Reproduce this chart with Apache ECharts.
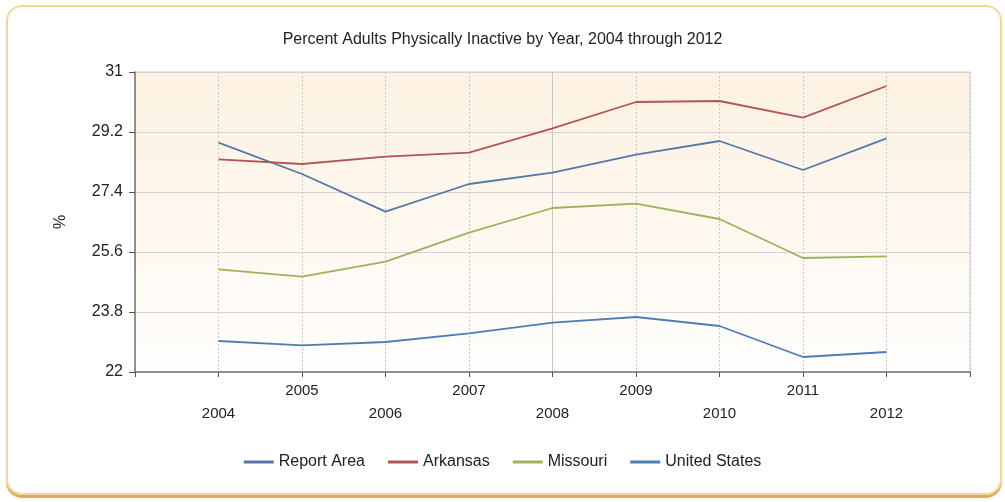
<!DOCTYPE html>
<html>
<head>
<meta charset="utf-8">
<script src="https://cdn.jsdelivr.net/npm/echarts@6/dist/echarts.min.js"></script>
<style>
    html, body { margin: 0; padding: 0; background: #fff; }
    #panel {
        position: absolute; left: 6px; top: 5px; width: 992px; height: 486px;
        border: 2px solid #efd796; border-radius: 16px;
        box-shadow: 0 3px 1px #d9ab62;
    }
    #main { position: absolute; left: 0; top: 0; width: 1005px; height: 502px; }
</style>
</head>
<body>
<div id="panel"></div>
<div id="main"></div>
<script>
// 数据
const years = [2004, 2005, 2006, 2007, 2008, 2009, 2010, 2011, 2012];
const reportArea = [28.88, 27.94, 26.81, 27.64, 27.98, 28.52, 28.93, 28.06, 29.01];
const arkansas = [28.38, 28.24, 28.46, 28.58, 29.31, 30.10, 30.13, 29.63, 30.58];
const missouri = [25.08, 24.86, 25.31, 26.18, 26.92, 27.05, 26.59, 25.42, 25.47];
const unitedStates = [22.93, 22.80, 22.90, 23.16, 23.48, 23.65, 23.38, 22.45, 22.60];
const yTicks = [22, 23.8, 25.6, 27.4, 29.2, 31];

window.addEventListener('DOMContentLoaded', function() {
    initChart();
});

function pairs(vals) {
    return years.map((y, i) => [y, vals[i]]);
}

function lineSeries(name, vals, color) {
    return {
        name: name,
        type: 'line',
        data: pairs(vals),
        showSymbol: false,
        symbol: 'none',
        lineStyle: { color: color, width: 1.8 },
        itemStyle: { color: color }
    };
}

function initChart() {
    const chartDom = document.getElementById('main');
    const myChart = echarts.init(chartDom);
    const font = 'Liberation Sans, Arial, sans-serif';

    const option = {
        textStyle: { fontFamily: font },
        title: {
            text: 'Percent Adults Physically Inactive by Year, 2004 through 2012',
            left: 'center',
            top: 27,
            textStyle: { fontSize: 16, fontWeight: 'normal', color: '#222', fontFamily: font }
        },
        legend: {
            bottom: 27,
            left: 'center',
            icon: 'rect',
            itemWidth: 30,
            itemHeight: 3,
            itemGap: 23,
            textStyle: { fontSize: 16, color: '#222', fontFamily: font },
            data: ['Report Area', 'Arkansas', 'Missouri', 'United States']
        },
        grid: {
            left: 135,
            right: 35,
            top: 72,
            bottom: 130,
            show: true,
            borderColor: '#cfcfcf',
            borderWidth: 1,
            backgroundColor: new echarts.graphic.LinearGradient(0, 0, 0, 1, [
                { offset: 0, color: '#fcf1e1' },
                { offset: 1, color: '#fffefd' }
            ])
        },
        xAxis: [
            {
                type: 'value',
                min: 2003,
                max: 2013,
                interval: 1,
                axisLine: { lineStyle: { color: '#777', width: 1.5 } },
                axisTick: { show: true, length: 5, lineStyle: { color: '#555' } },
                splitLine: { show: true, lineStyle: { color: '#c8c8c8', type: [2, 2] } },
                axisLabel: {
                    fontSize: 15,
                    color: '#222',
                    margin: 7,
                    lineHeight: 23,
                    formatter: function(v) {
                        if (v < 2004 || v > 2012) return '';
                        return v % 2 === 0 ? '\n' + v : String(v);
                    }
                }
            },
            {
                type: 'value',
                min: 2003,
                max: 2013,
                position: 'bottom',
                axisLine: { show: false },
                axisLabel: { show: false },
                axisTick: { show: false, customValues: [2008] },
                splitLine: { show: true, lineStyle: { color: '#c8c8c8', type: 'solid' } }
            }
        ],
        yAxis: {
            type: 'value',
            min: 22,
            max: 31,
            name: '%',
            nameLocation: 'middle',
            nameGap: 66,
            nameTextStyle: { fontSize: 16, color: '#222' },
            axisLine: { show: true, lineStyle: { color: '#777', width: 1.5 } },
            axisTick: { show: true, length: 6, customValues: yTicks, lineStyle: { color: '#555' } },
            axisLabel: { fontSize: 16, color: '#222', margin: 12, customValues: yTicks },
            splitLine: { show: true, lineStyle: { color: '#d3d3d3' } }
        },
        series: [
            lineSeries('Report Area', reportArea, '#5678a6'),
            lineSeries('Arkansas', arkansas, '#b25555'),
            lineSeries('Missouri', missouri, '#9bb45c'),
            lineSeries('United States', unitedStates, '#4f7db2')
        ]
    };

    myChart.setOption(option);
    window.addEventListener('resize', () => myChart.resize());
}
</script>
</body>
</html>
